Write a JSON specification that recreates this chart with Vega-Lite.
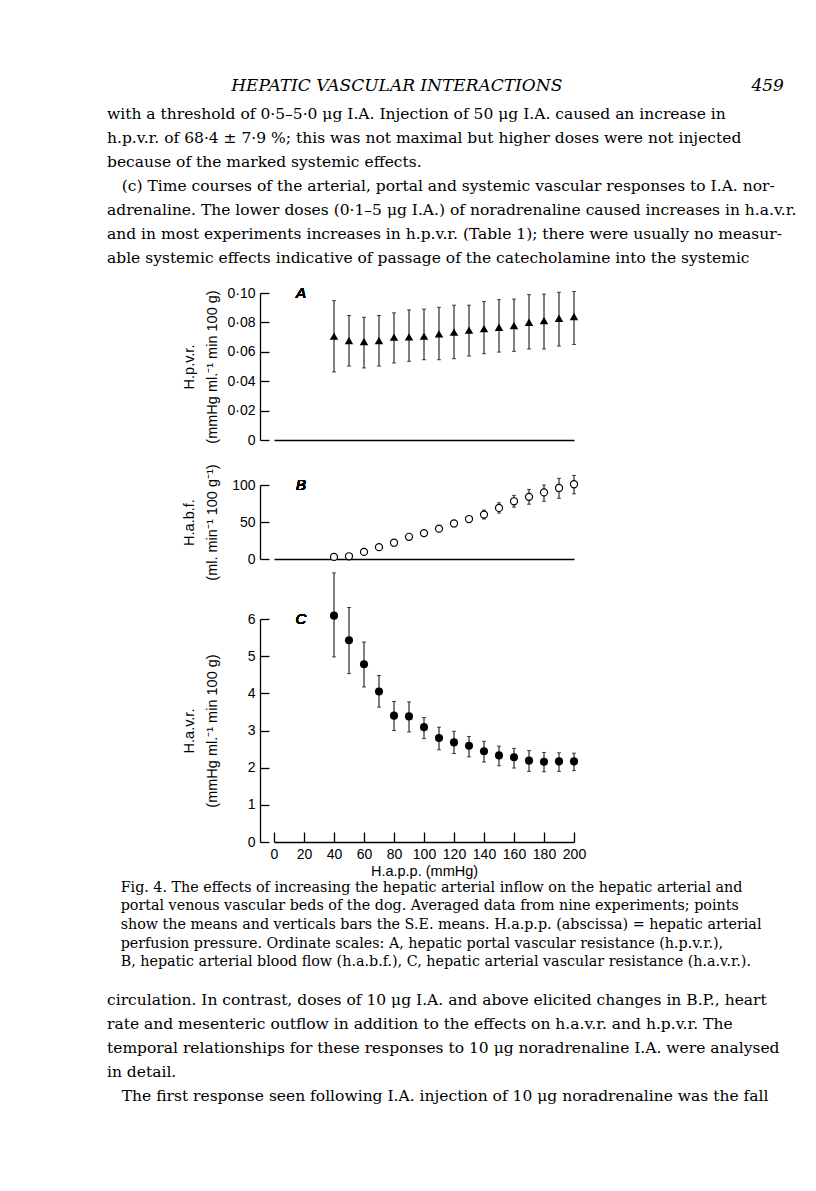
{
  "$schema": "https://vega.github.io/schema/vega-lite/v6.json",
  "background": "white",
  "padding": {"left": 107, "top": 76, "right": 0, "bottom": 0},
  "config": {
    "view": {"stroke": null},
    "axis": {
      "grid": false,
      "labelOverlap": false,
      "labelFlush": false,
      "domainColor": "black",
      "tickColor": "black",
      "labelColor": "black",
      "titleColor": "black",
      "domainWidth": 1.3,
      "tickWidth": 1.3,
      "labelFont": "Liberation Sans",
      "titleFont": "Liberation Sans",
      "labelFontSize": 14,
      "titleFontSize": 14.5,
      "titleFontWeight": "normal"
    }
  },
  "datasets": {
    "a": [
      {"p": 40, "m": 0.0707, "lo": 0.0463, "hi": 0.0948},
      {"p": 50, "m": 0.0677, "lo": 0.0503, "hi": 0.0847},
      {"p": 60, "m": 0.0670, "lo": 0.0490, "hi": 0.0835},
      {"p": 70, "m": 0.0677, "lo": 0.0503, "hi": 0.0847},
      {"p": 80, "m": 0.0700, "lo": 0.0524, "hi": 0.0865},
      {"p": 90, "m": 0.0702, "lo": 0.0535, "hi": 0.0885},
      {"p": 100, "m": 0.0707, "lo": 0.0546, "hi": 0.0890},
      {"p": 110, "m": 0.0722, "lo": 0.0546, "hi": 0.0903},
      {"p": 120, "m": 0.0734, "lo": 0.0553, "hi": 0.0917},
      {"p": 130, "m": 0.0747, "lo": 0.0571, "hi": 0.0917},
      {"p": 140, "m": 0.0758, "lo": 0.0587, "hi": 0.0941},
      {"p": 150, "m": 0.0767, "lo": 0.0598, "hi": 0.0955},
      {"p": 160, "m": 0.0779, "lo": 0.0603, "hi": 0.0959},
      {"p": 170, "m": 0.0801, "lo": 0.0619, "hi": 0.0989},
      {"p": 180, "m": 0.0813, "lo": 0.0619, "hi": 0.0993},
      {"p": 190, "m": 0.0828, "lo": 0.0639, "hi": 0.1005},
      {"p": 200, "m": 0.0840, "lo": 0.0650, "hi": 0.1010}
    ],
    "b": [
      {"p": 40, "m": 2.8, "lo": 1.5, "hi": 4.1},
      {"p": 50, "m": 3.7, "lo": 2.4, "hi": 5.0},
      {"p": 60, "m": 9.6, "lo": 8.0, "hi": 11.2},
      {"p": 70, "m": 16, "lo": 14, "hi": 18},
      {"p": 80, "m": 22, "lo": 20, "hi": 24},
      {"p": 90, "m": 30, "lo": 28, "hi": 32},
      {"p": 100, "m": 35, "lo": 33, "hi": 37},
      {"p": 110, "m": 41, "lo": 39, "hi": 43},
      {"p": 120, "m": 48, "lo": 46, "hi": 50},
      {"p": 130, "m": 54, "lo": 51, "hi": 57},
      {"p": 140, "m": 60, "lo": 54, "hi": 66},
      {"p": 150, "m": 69, "lo": 62, "hi": 76},
      {"p": 160, "m": 78, "lo": 70, "hi": 86},
      {"p": 170, "m": 84, "lo": 74, "hi": 94},
      {"p": 180, "m": 90, "lo": 78, "hi": 100},
      {"p": 190, "m": 96, "lo": 82, "hi": 109},
      {"p": 200, "m": 101, "lo": 88, "hi": 113}
    ],
    "c": [
      {"p": 40, "m": 6.09, "lo": 4.98, "hi": 7.24},
      {"p": 50, "m": 5.43, "lo": 4.53, "hi": 6.31},
      {"p": 60, "m": 4.78, "lo": 4.17, "hi": 5.38},
      {"p": 70, "m": 4.05, "lo": 3.63, "hi": 4.48},
      {"p": 80, "m": 3.40, "lo": 3.00, "hi": 3.78},
      {"p": 90, "m": 3.38, "lo": 2.96, "hi": 3.77},
      {"p": 100, "m": 3.09, "lo": 2.78, "hi": 3.35},
      {"p": 110, "m": 2.80, "lo": 2.48, "hi": 3.09},
      {"p": 120, "m": 2.68, "lo": 2.38, "hi": 2.98},
      {"p": 130, "m": 2.59, "lo": 2.29, "hi": 2.84},
      {"p": 140, "m": 2.44, "lo": 2.15, "hi": 2.71},
      {"p": 150, "m": 2.33, "lo": 2.05, "hi": 2.58},
      {"p": 160, "m": 2.28, "lo": 1.99, "hi": 2.52},
      {"p": 170, "m": 2.19, "lo": 1.90, "hi": 2.46},
      {"p": 180, "m": 2.16, "lo": 1.89, "hi": 2.41},
      {"p": 190, "m": 2.17, "lo": 1.90, "hi": 2.40},
      {"p": 200, "m": 2.17, "lo": 1.92, "hi": 2.39}
    ]
  },
  "title": {
    "text": "\u200b\u00a0\u00a0\u00a0\u00a0\u00a0\u00a0\u00a0\u00a0\u00a0\u00a0\u00a0\u00a0\u00a0\u00a0\u00a0\u00a0\u00a0\u00a0\u00a0\u00a0\u00a0\u00a0\u00a0HEPATIC VASCULAR INTERACTIONS\u00a0\u00a0\u00a0\u00a0\u00a0\u00a0\u00a0\u00a0\u00a0\u00a0\u00a0\u00a0\u00a0\u00a0\u00a0\u00a0\u00a0\u00a0\u00a0\u00a0\u00a0\u00a0\u00a0\u00a0\u00a0\u00a0\u00a0\u00a0\u00a0\u00a0\u00a0\u00a0\u00a0\u00a0\u00a0459",
    "subtitle": [
      "with a threshold of 0·5–5·0 μg I.A. Injection of 50 μg I.A. caused an increase in",
      "h.p.v.r. of 68·4 ± 7·9 %; this was not maximal but higher doses were not injected",
      "because of the marked systemic effects.",
      "\u200b\u00a0\u00a0\u00a0(c) Time courses of the arterial, portal and systemic vascular responses to I.A. nor-",
      "adrenaline. The lower doses (0·1–5 μg I.A.) of noradrenaline caused increases in h.a.v.r.",
      "and in most experiments increases in h.p.v.r. (Table 1); there were usually no measur-",
      "able systemic effects indicative of passage of the catecholamine into the systemic"
    ],
    "anchor": "start",
    "frame": "group",
    "dx": -167,
    "font": "DejaVu Serif",
    "fontSize": 17,
    "fontStyle": "italic",
    "fontWeight": "normal",
    "color": "black",
    "subtitleFont": "DejaVu Serif",
    "subtitleFontSize": 15.5,
    "subtitleColor": "black",
    "subtitleLineHeight": 24,
    "subtitlePadding": 12,
    "offset": 19
  },
  "bounds": "flush",
  "spacing": 45,
  "vconcat": [
    {
      "data": {"name": "a"},
      "width": 300,
      "height": 147,
      "layer": [
        {
          "mark": {"type": "errorbar", "color": "black", "thickness": 1, "ticks": {"size": 4, "thickness": 1}},
          "encoding": {
            "x": {"field": "p", "type": "quantitative", "scale": {"domain": [0, 200], "nice": false}, "axis": {"labels": false, "ticks": false, "title": null, "domain": true}},
            "y": {"field": "lo", "type": "quantitative", "scale": {"domain": [0, 0.1], "nice": false, "zero": true}, "axis": {"title": ["H.p.v.r.", "(mmHg ml.⁻¹ min 100 g)"], "values": [0, 0.02, 0.04, 0.06, 0.08, 0.1], "tickCount": 20, "labelExpr": "datum.value == 0 ? '0' : replace(format(datum.value, '.2f'), '.', '·')", "offset": 14, "tickSize": -9, "labelPadding": 14, "minExtent": 35, "maxExtent": 35, "titlePadding": 6, "titleLineHeight": 23}},
            "y2": {"field": "hi"}
          }
        },
        {
          "mark": {"type": "point", "shape": "triangle-up", "filled": true, "color": "black", "size": 72, "opacity": 1},
          "encoding": {
            "x": {"field": "p", "type": "quantitative"},
            "y": {"field": "m", "type": "quantitative", "axis": {"title": ["H.p.v.r.", "(mmHg ml.⁻¹ min 100 g)"], "values": [0, 0.02, 0.04, 0.06, 0.08, 0.1], "tickCount": 20, "labelExpr": "datum.value == 0 ? '0' : replace(format(datum.value, '.2f'), '.', '·')", "offset": 14, "tickSize": -9, "labelPadding": 14, "minExtent": 35, "maxExtent": 35, "titlePadding": 6, "titleLineHeight": 23}}
          }
        },
        {
          "mark": {"type": "text", "font": "Liberation Sans", "fontStyle": "italic", "fontSize": 15, "baseline": "middle", "align": "center", "color": "black"},
          "encoding": {
            "x": {"datum": 18},
            "y": {"datum": 0.1},
            "text": {"value": "A"}
          }
        }
      ]
    },
    {
      "data": {"name": "b"},
      "width": 300,
      "height": 74,
      "layer": [
        {
          "mark": {"type": "errorbar", "color": "black", "thickness": 1, "ticks": {"size": 4, "thickness": 1}},
          "encoding": {
            "x": {"field": "p", "type": "quantitative", "scale": {"domain": [0, 200], "nice": false}, "axis": {"labels": false, "ticks": false, "title": null, "domain": true}},
            "y": {"field": "lo", "type": "quantitative", "scale": {"domain": [0, 100], "nice": false}, "axis": {"title": ["H.a.b.f.", "(ml. min⁻¹ 100 g⁻¹)"], "values": [0, 50, 100], "format": "d", "tickCount": 20, "offset": 14, "tickSize": -9, "labelPadding": 14, "minExtent": 35, "maxExtent": 35, "titlePadding": 6, "titleLineHeight": 23}},
            "y2": {"field": "hi"}
          }
        },
        {
          "mark": {"type": "point", "shape": "circle", "filled": true, "fill": "white", "stroke": "black", "strokeWidth": 1.2, "size": 50, "opacity": 1},
          "encoding": {
            "x": {"field": "p", "type": "quantitative"},
            "y": {"field": "m", "type": "quantitative", "axis": {"title": ["H.a.b.f.", "(ml. min⁻¹ 100 g⁻¹)"], "values": [0, 50, 100], "format": "d", "tickCount": 20, "offset": 14, "tickSize": -9, "labelPadding": 14, "minExtent": 35, "maxExtent": 35, "titlePadding": 6, "titleLineHeight": 23}}
          }
        },
        {
          "mark": {"type": "text", "font": "Liberation Sans", "fontStyle": "italic", "fontSize": 15, "baseline": "middle", "align": "center", "color": "black"},
          "encoding": {
            "x": {"datum": 18},
            "y": {"datum": 100},
            "text": {"value": "B"}
          }
        }
      ]
    },
    {
      "data": {"name": "c"},
      "width": 300,
      "height": 238,
      "title": {
        "text": [
          "\u200b\u00a0\u00a0\u00a0Fig. 4. The effects of increasing the hepatic arterial inflow on the hepatic arterial and",
          "\u200b\u00a0\u00a0\u00a0portal venous vascular beds of the dog. Averaged data from nine experiments; points",
          "\u200b\u00a0\u00a0\u00a0show the means and verticals bars the S.E. means. H.a.p.p. (abscissa) = hepatic arterial",
          "\u200b\u00a0\u00a0\u00a0perfusion pressure. Ordinate scales: A, hepatic portal vascular resistance (h.p.v.r.),",
          "\u200b\u00a0\u00a0\u00a0B, hepatic arterial blood flow (h.a.b.f.), C, hepatic arterial vascular resistance (h.a.v.r.)."
        ],
        "subtitle": [
          "circulation. In contrast, doses of 10 μg I.A. and above elicited changes in B.P., heart",
          "rate and mesenteric outflow in addition to the effects on h.a.v.r. and h.p.v.r. The",
          "temporal relationships for these responses to 10 μg noradrenaline I.A. were analysed",
          "in detail.",
          "\u200b\u00a0\u00a0\u00a0The first response seen following I.A. injection of 10 μg noradrenaline was the fall"
        ],
        "orient": "bottom",
        "anchor": "start",
        "frame": "group",
        "dx": -167,
        "offset": 3,
        "font": "DejaVu Serif",
        "fontSize": 14.3,
        "fontWeight": "normal",
        "lineHeight": 18.7,
        "color": "black",
        "subtitleFont": "DejaVu Serif",
        "subtitleFontSize": 15.5,
        "subtitleLineHeight": 24,
        "subtitleColor": "black",
        "subtitlePadding": 23
      },
      "layer": [
        {
          "mark": {"type": "errorbar", "color": "black", "thickness": 1, "ticks": {"size": 4, "thickness": 1}},
          "encoding": {
            "x": {"field": "p", "type": "quantitative", "scale": {"domain": [0, 200], "nice": false}, "axis": {"title": "H.a.p.p. (mmHg)", "values": [0, 20, 40, 60, 80, 100, 120, 140, 160, 180, 200], "format": "d", "tickCount": 20, "tickSize": -10, "labelPadding": 15, "titlePadding": 3}},
            "y": {"field": "lo", "type": "quantitative", "scale": {"domain": [0, 6], "nice": false, "range": [238, 15]}, "axis": {"title": ["H.a.v.r.", "(mmHg ml.⁻¹ min 100 g)"], "values": [0, 1, 2, 3, 4, 5, 6], "format": "d", "tickCount": 20, "offset": 14, "tickSize": -9, "labelPadding": 14, "minExtent": 35, "maxExtent": 35, "titlePadding": 6, "titleLineHeight": 23}},
            "y2": {"field": "hi"}
          }
        },
        {
          "mark": {"type": "point", "shape": "circle", "filled": true, "color": "black", "size": 65, "opacity": 1},
          "encoding": {
            "x": {"field": "p", "type": "quantitative", "axis": {"title": "H.a.p.p. (mmHg)", "values": [0, 20, 40, 60, 80, 100, 120, 140, 160, 180, 200], "format": "d", "tickCount": 20, "tickSize": -10, "labelPadding": 15, "titlePadding": 3}},
            "y": {"field": "m", "type": "quantitative", "axis": {"title": ["H.a.v.r.", "(mmHg ml.⁻¹ min 100 g)"], "values": [0, 1, 2, 3, 4, 5, 6], "format": "d", "tickCount": 20, "offset": 14, "tickSize": -9, "labelPadding": 14, "minExtent": 35, "maxExtent": 35, "titlePadding": 6, "titleLineHeight": 23}}
          }
        },
        {
          "mark": {"type": "text", "font": "Liberation Sans", "fontStyle": "italic", "fontSize": 15, "baseline": "middle", "align": "center", "color": "black"},
          "encoding": {
            "x": {"datum": 18},
            "y": {"datum": 6},
            "text": {"value": "C"}
          }
        }
      ]
    }
  ]
}
